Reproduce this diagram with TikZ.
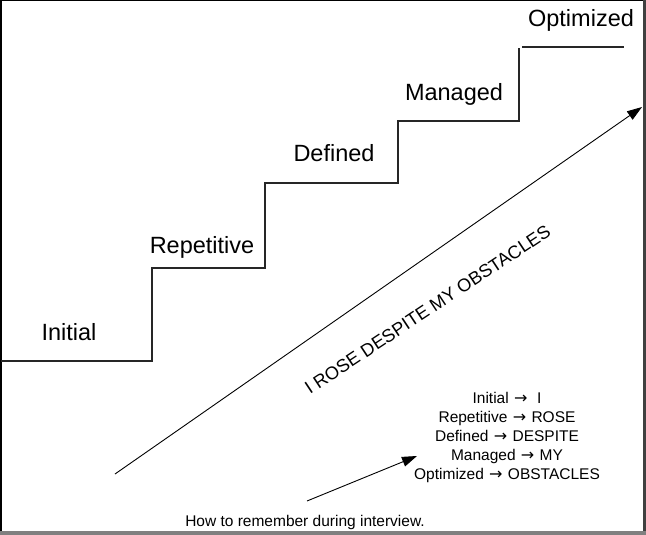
\documentclass[tikz,border=0pt]{standalone}
\usepackage{fontspec}
\setmainfont{Liberation Sans}
\newfontfamily\arrowfont{DejaVu Sans}
\usetikzlibrary{arrows.meta}
\newcommand{\legarrow}{\hspace{1pt}{\arrowfont\fontsize{16}{19}\selectfont →}\hspace{1pt}}
\begin{document}
\begin{tikzpicture}[x=1pt,y=-1pt,
  stair/.style={draw=black!85, line width=1.1pt},
  steplabel/.style={font=\fontsize{23.5}{28}\selectfont, inner sep=0pt, anchor=base},
  legend/.style={font=\fontsize{15.5}{19}\selectfont, inner sep=0pt, anchor=base},
  arr/.style={draw=black, line width=0.9pt, -{Triangle[length=15pt,width=10pt]}}]
\useasboundingbox (0,0) rectangle (646,535);
\fill[white] (0,0) rectangle (646,535);
% frame
\draw[black, line width=1.5pt] (0,0.75) -- (643,0.75);
\draw[black, line width=1.8pt] (0.9,0) -- (0.9,535);
\fill[black!75] (643,0) rectangle (646,535);
\fill[black!50] (0,531) rectangle (646,535);
% stairs
\coordinate (s0) at (1,361);
\coordinate (s1) at (152,361);
\coordinate (s2) at (152,268);
\coordinate (s3) at (265,268);
\coordinate (s4) at (265,183);
\coordinate (s5) at (398,183);
\coordinate (s6) at (398,121);
\coordinate (s7) at (519,121);
\coordinate (s8) at (519,48);
\coordinate (t1) at (522,47);
\coordinate (t2) at (624,47);
\draw[stair] (s0) -- (s1) -- (s2) -- (s3) -- (s4) -- (s5) -- (s6) -- (s7) -- (s8);
\draw[stair] (t1) -- (t2);
% step labels
\node[steplabel] (initial) at (69,340) {Initial};
\node[steplabel] (repetitive) at (202,253) {Repetitive};
\node[steplabel] (defined) at (334,161) {Defined};
\node[steplabel] (managed) at (454,100) {Managed};
\node[steplabel] (optimized) at (581,27) {Optimized};
% big arrow
\coordinate (a0) at (115,474);
\coordinate (a1) at (642,107);
\draw[arr] (a0) -- (a1);
\node[font=\fontsize{18.2}{20}\selectfont, inner sep=0pt, anchor=base west, rotate=33.5] (motto) at (310,395) {I ROSE DESPITE MY OBSTACLES};
% legend
\node[legend] (l1) at (507,403) {Initial \legarrow\ \ I};
\node[legend] (l2) at (507,422) {Repetitive \legarrow\ ROSE};
\node[legend] (l3) at (507,441) {Defined \legarrow\ DESPITE};
\node[legend] (l4) at (507,460) {Managed \legarrow\ MY};
\node[legend] (l5) at (507,479) {Optimized \legarrow\ OBSTACLES};
% small arrow
\coordinate (b0) at (307,501);
\coordinate (b1) at (417,456);
\draw[arr] (b0) -- (b1);
\node[legend] (how) at (305,526) {How to remember during interview.};
\end{tikzpicture}
\end{document}
